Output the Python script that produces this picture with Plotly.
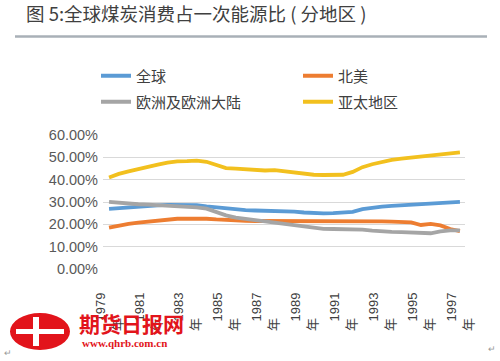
import plotly.graph_objects as go

# x positions (half-year steps between 1979 and 1997, as drawn)
x_years = [1979 + 0.5 * i for i in range(37)]
tick_years = [1979, 1981, 1983, 1985, 1987, 1989, 1991, 1993, 1995, 1997]
tick_labels = ["1979", "1981", "1983", "1985", "1987", "1989", "1991", "1993", "1995", "1997"]

global_share = [26.9, 27.3, 27.6, 27.9, 28.2, 28.5, 28.7, 28.7, 28.7, 28.6,
                28.0, 27.5, 27.0, 26.6, 26.4, 26.2, 26.1, 26.2, 26.0, 25.7,
                25.3, 24.9, 24.9, 25.0, 25.1, 25.6, 26.8, 27.5, 27.9, 28.3,
                28.6, 28.9, 29.0, 29.3, 29.7, 30.0, 30.1]
north_america = [18.5, 19.5, 20.2, 20.8, 21.3, 21.8, 22.2, 22.5, 22.6, 22.7,
                 22.5, 22.2, 21.9, 21.7, 21.6, 21.5, 21.5, 21.7, 21.6, 21.5,
                 21.5, 21.4, 21.5, 21.4, 21.5, 21.4, 21.5, 21.4, 21.3, 21.2,
                 21.2, 20.9, 19.7, 20.2, 19.5, 17.9, 17.0]
europe_eurasia = [30.1, 29.6, 29.3, 29.0, 28.8, 28.6, 28.4, 28.2, 27.9, 27.6,
                  27.0, 25.5, 24.0, 23.0, 22.3, 21.9, 21.3, 20.8, 20.2, 19.5,
                  18.8, 18.2, 18.0, 17.9, 17.9, 17.8, 17.6, 17.2, 16.7, 16.6,
                  16.5, 16.2, 16.0, 16.0, 16.8, 17.3, 17.3]
asia_pacific = [41.0, 42.6, 43.7, 44.8, 45.8, 46.7, 47.6, 48.2, 48.3, 48.5,
                48.0, 46.5, 45.2, 44.9, 44.5, 44.3, 44.1, 44.3, 43.8, 43.0,
                42.5, 42.2, 42.1, 42.1, 42.2, 43.5, 45.6, 46.9, 48.1, 48.9,
                49.4, 49.9, 50.3, 50.8, 51.5, 51.8, 52.2]

y_ticks = [0, 10, 20, 30, 40, 50, 60]
y_tick_labels = ["0.00%", "10.00%", "20.00%", "30.00%", "40.00%", "50.00%", "60.00%"]

series = [
    ("全球", global_share, "#5b9bd5", "legend"),
    ("北美", north_america, "#ed7d31", "legend"),
    ("欧洲及欧洲大陆", europe_eurasia, "#a5a5a5", "legend2"),
    ("亚太地区", asia_pacific, "#f2c01e", "legend2"),
]

FONT = "Noto Sans CJK SC, Liberation Sans, sans-serif"

fig = go.Figure()
for name, vals, color, lg in series:
    fig.add_trace(go.Scatter(x=x_years, y=vals, name=name, mode="lines",
                             line=dict(color=color, width=3.8),
                             legend=lg))

W, H = 500, 361
ml, mr, mt, mb = 103, 35, 135, 92
pw, ph = W - ml - mr, H - mt - mb

def px(x):
    return (x - ml) / pw

def py(y):
    return (H - mb - y) / ph

NB = "\u00a0"

fig.update_layout(
    width=W, height=H,
    margin=dict(l=ml, r=mr, t=mt, b=mb, pad=0),
    paper_bgcolor="white", plot_bgcolor="white",
    font=dict(family=FONT, color="#595959"),
    title=dict(text="图 5:全球煤炭消费占一次能源比 ( 分地区 )",
               x=26 / W, xanchor="left", xref="container",
               y=1 - 14.5 / H, yanchor="middle",
               font=dict(size=18.5, color="#404040", family=FONT)),
    legend=dict(orientation="h", x=px(102), xanchor="left", y=py(76), yanchor="middle",
                entrywidth=157, entrywidthmode="pixels",
                font=dict(size=15, color="#404040", family=FONT),
                bgcolor="rgba(0,0,0,0)"),
    legend2=dict(orientation="h", x=px(102), xanchor="left", y=py(102), yanchor="middle",
                 entrywidth=157, entrywidthmode="pixels",
                 font=dict(size=15, color="#404040", family=FONT),
                 bgcolor="rgba(0,0,0,0)"),
    showlegend=True,
)

fig.update_xaxes(range=[1978.69, 1997.26], tickvals=tick_years,
                 ticktext=[t + "<br>年" + NB * 7 for t in tick_labels],
                 tickangle=-90, showgrid=False, zeroline=False, showline=False,
                 ticks="", tickfont=dict(size=13, color="#404040", family="Liberation Sans, " + FONT),
                 ticklabelstandoff=20)
fig.update_yaxes(range=[0, 60], tickvals=y_ticks, ticktext=y_tick_labels,
                 showgrid=True, gridcolor="#d9d9d9", gridwidth=1,
                 zeroline=False, showline=False, ticks="",
                 tickfont=dict(size=14.5, color="#595959", family="Liberation Sans, sans-serif"),
                 ticklabelstandoff=4)

# rule under the title
fig.add_shape(type="line", xref="paper", yref="paper",
              x0=px(15), x1=px(487), y0=py(36.5), y1=py(36.5),
              line=dict(color="#a9b0b7", width=2.5))

# watermark logo
fig.add_shape(type="circle", xref="paper", yref="paper",
              x0=px(10), x1=px(70), y0=py(350), y1=py(313),
              fillcolor="#e2141b", line=dict(width=0))
fig.add_shape(type="rect", xref="paper", yref="paper",
              x0=px(16), x1=px(64), y0=py(334), y1=py(329),
              fillcolor="white", line=dict(width=0))
fig.add_shape(type="rect", xref="paper", yref="paper",
              x0=px(33), x1=px(39), y0=py(346), y1=py(317),
              fillcolor="white", line=dict(width=0))
fig.add_annotation(xref="paper", yref="paper", x=px(77), y=py(323), xanchor="left", yanchor="middle",
                   text="<b>期货日报网</b>", showarrow=False,
                   font=dict(size=21, color="#e2141b", family="Noto Sans CJK SC"))
fig.add_annotation(xref="paper", yref="paper", x=px(80), y=py(343), xanchor="left", yanchor="middle",
                   text="<b>www.qhrb.com.cn</b>", showarrow=False,
                   font=dict(size=11, color="#e2141b", family="Liberation Serif"))
fig.add_annotation(xref="paper", yref="paper", x=px(2), y=py(352), xanchor="left", yanchor="middle",
                   text="↵", showarrow=False, font=dict(size=9, color="#999999"))
fig.add_annotation(xref="paper", yref="paper", x=px(486), y=py(348), xanchor="left", yanchor="middle",
                   text="↵", showarrow=False, font=dict(size=9, color="#999999"))

fig.write_html("out.html", config={"displayModeBar": False},
               post_script="document.body.style.margin='0';")
